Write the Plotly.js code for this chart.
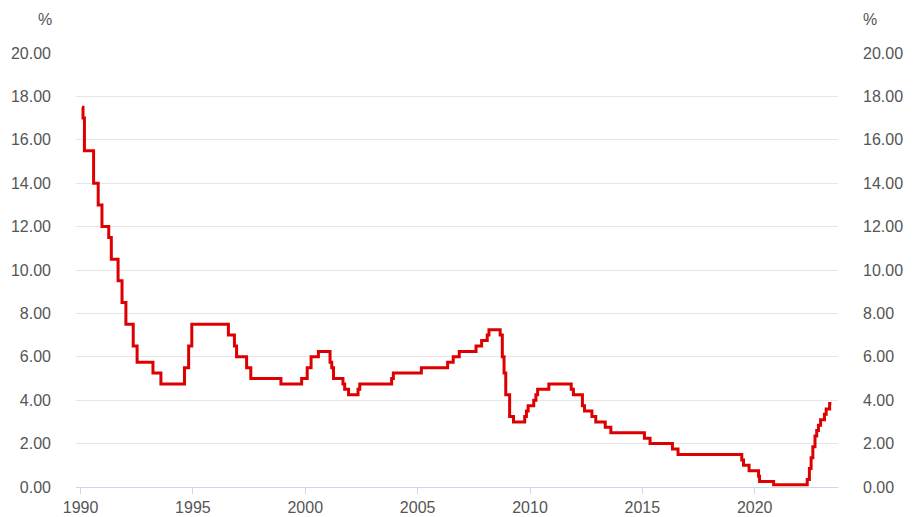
<!DOCTYPE html>
<html>
<head>
<meta charset="utf-8">
<script src="https://cdn.plot.ly/plotly-3.0.1.min.js"></script>
<style>
  html, body { margin: 0; padding: 0; background: #ffffff; }
  #chart { width: 917px; height: 517px; }
</style>
</head>
<body>
<div id="chart"></div>
<script>
// Dates on which the rate changed (step series)
const changeDates = [
  "1990-01-25", "1990-02-10", "1990-03-05", "1990-08-01", "1990-10-15", "1990-12-15",
  "1991-04-04", "1991-05-16", "1991-09-03", "1991-11-06",
  "1992-01-08", "1992-05-06", "1992-07-08",
  "1993-03-23", "1993-07-30",
  "1994-08-17", "1994-10-24", "1994-12-14",
  "1996-07-31", "1996-11-06", "1996-12-11",
  "1997-05-23", "1997-07-30",
  "1998-12-02",
  "1999-11-03",
  "2000-02-02", "2000-04-05", "2000-08-02",
  "2001-02-07", "2001-03-07", "2001-04-04", "2001-09-05", "2001-10-03", "2001-12-05",
  "2002-05-08", "2002-06-05",
  "2003-11-05", "2003-12-03",
  "2005-03-02",
  "2006-05-03", "2006-08-02", "2006-11-08",
  "2007-08-08", "2007-11-07",
  "2008-02-06", "2008-03-05", "2008-09-03", "2008-10-08", "2008-11-05", "2008-12-03",
  "2009-02-04", "2009-04-08", "2009-10-07", "2009-11-04", "2009-12-02",
  "2010-03-03", "2010-04-07", "2010-05-05", "2010-11-03",
  "2011-11-02", "2011-12-07",
  "2012-05-02", "2012-06-06", "2012-10-03", "2012-12-05",
  "2013-05-08", "2013-08-07",
  "2015-02-04", "2015-05-06",
  "2016-05-04", "2016-08-03",
  "2019-06-05", "2019-07-03", "2019-10-02",
  "2020-03-04", "2020-03-20", "2020-11-04",
  "2022-05-04", "2022-06-08", "2022-07-06", "2022-08-03", "2022-09-07", "2022-10-05", "2022-11-02", "2022-12-07",
  "2023-02-08", "2023-03-08", "2023-05-03", "2023-05-31"
];
const rates = [
  17.5, 17.0, 15.5, 14.0, 13.0, 12.0,
  11.5, 10.5, 9.5, 8.5,
  7.5, 6.5, 5.75,
  5.25, 4.75,
  5.5, 6.5, 7.5,
  7.0, 6.5, 6.0,
  5.5, 5.0,
  4.75,
  5.0,
  5.5, 6.0, 6.25,
  5.75, 5.5, 5.0, 4.75, 4.5, 4.25,
  4.5, 4.75,
  5.0, 5.25,
  5.5,
  5.75, 6.0, 6.25,
  6.5, 6.75,
  7.0, 7.25, 7.0, 6.0, 5.25, 4.25,
  3.25, 3.0, 3.25, 3.5, 3.75,
  4.0, 4.25, 4.5, 4.75,
  4.5, 4.25,
  3.75, 3.5, 3.25, 3.0,
  2.75, 2.5,
  2.25, 2.0,
  1.75, 1.5,
  1.25, 1.0, 0.75,
  0.5, 0.25, 0.1,
  0.35, 0.85, 1.35, 1.85, 2.35, 2.6, 2.85, 3.1,
  3.35, 3.6, 3.85, 3.85
];
const yTickVals = [0, 2, 4, 6, 8, 10, 12, 14, 16, 18, 20];
const yTickText = ["0.00", "2.00", "4.00", "6.00", "8.00", "10.00", "12.00", "14.00", "16.00", "18.00", "20.00"];
const unitLabel = "%";

const labelFont = { family: "Liberation Sans, Arial, sans-serif", size: 16, color: "#555555" };

const traces = [
  {
    x: changeDates, y: rates, type: "scatter", mode: "lines",
    line: { color: "#dd0000", width: 3, shape: "hv" },
    hoverinfo: "x+y", showlegend: false, xaxis: "x", yaxis: "y"
  },
  {
    x: changeDates, y: rates, type: "scatter", mode: "lines",
    line: { color: "rgba(0,0,0,0)", width: 0, shape: "hv" },
    hoverinfo: "skip", showlegend: false, xaxis: "x", yaxis: "y2"
  }
];

const yCommon = {
  range: [0, 20], tickvals: yTickVals, ticktext: yTickText,
  showgrid: true, gridcolor: "#e6e6e6", gridwidth: 1,
  zeroline: false, showline: false, ticks: "",
  tickfont: labelFont, ticklabelstandoff: 24, fixedrange: true
};

const layout = {
  width: 917, height: 517,
  margin: { l: 76, r: 79, t: 53, b: 30 },
  paper_bgcolor: "#ffffff", plot_bgcolor: "#ffffff",
  font: labelFont,
  showlegend: false,
  xaxis: {
    type: "date",
    range: ["1989-10-19", "2023-09-16"],
    tick0: "1990-01-01", dtick: "M60", tickformat: "%Y",
    showgrid: false, zeroline: false,
    showline: true, linecolor: "#ccd6eb", linewidth: 1,
    ticks: "outside", ticklen: 6, tickcolor: "#ccd6eb", tickwidth: 1,
    tickfont: labelFont, fixedrange: true
  },
  yaxis: Object.assign({}, yCommon, { side: "left" }),
  yaxis2: Object.assign({}, yCommon, { side: "right", overlaying: "y", showgrid: false }),
  annotations: [
    { text: unitLabel, xref: "paper", yref: "paper", x: 0, y: 1, xshift: -31, yshift: 34,
      showarrow: false, font: labelFont, xanchor: "center", yanchor: "middle" },
    { text: unitLabel, xref: "paper", yref: "paper", x: 1, y: 1, xshift: 32, yshift: 34,
      showarrow: false, font: labelFont, xanchor: "center", yanchor: "middle" }
  ]
};

Plotly.newPlot("chart", traces, layout, { displayModeBar: false, responsive: false });
</script>
</body>
</html>
